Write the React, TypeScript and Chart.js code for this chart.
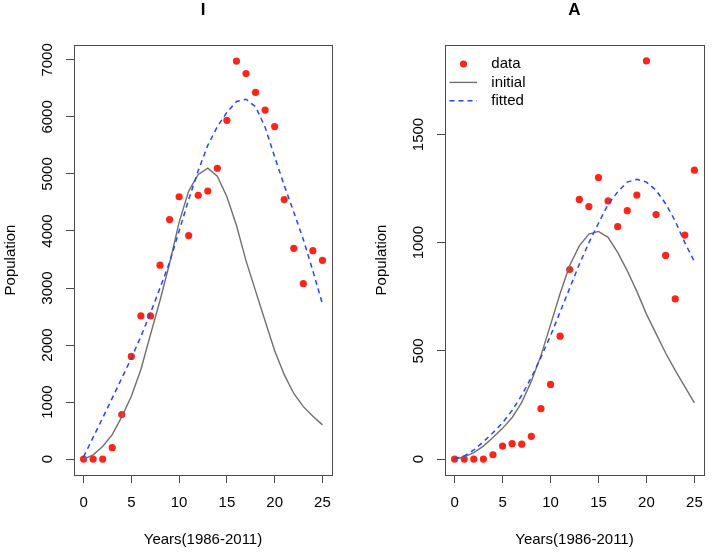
import React, { useEffect, useRef } from 'react';
import { Chart, registerables } from 'chart.js';

Chart.register(...registerables);

const FONT = 'Liberation Sans, Arial, Helvetica, sans-serif';

// ---- data ----
const years = [0, 1, 2, 3, 4, 5, 6, 7, 8, 9, 10, 11, 12, 13, 14, 15, 16, 17, 18, 19, 20, 21, 22, 23, 24, 25];

const iData = [0, 0, 0, 200, 780, 1800, 2510, 2510, 3400, 4200, 4600, 3920, 4625, 4700, 5100, 5940, 6980, 6760, 6430, 6120, 5830, 4550, 3695, 3075, 3655, 3485];
const iInitial = [0, 75, 220, 430, 740, 1100, 1570, 2180, 2780, 3430, 4150, 4700, 4990, 5100, 4960, 4600, 4100, 3480, 2950, 2420, 1900, 1480, 1150, 920, 750, 600];
const iFitted = [40, 380, 720, 1070, 1420, 1770, 2150, 2560, 3000, 3450, 4000, 4550, 5060, 5500, 5830, 6080, 6270, 6310, 6180, 5820, 5300, 4800, 4330, 3850, 3300, 2720];

const aData = [0, 0, 0, 0, 20, 60, 71, 69, 105, 233, 345, 568, 876, 1200, 1167, 1301, 1193, 1074, 1148, 1220, 1840, 1130, 941, 740, 1035, 1335];
const aInitial = [0, 10, 30, 60, 100, 142, 192, 262, 360, 478, 620, 765, 895, 985, 1040, 1052, 1025, 955, 870, 775, 670, 580, 490, 410, 335, 260];
const aFitted = [0, 14, 42, 80, 122, 168, 225, 295, 377, 470, 570, 680, 790, 900, 1000, 1090, 1177, 1235, 1280, 1293, 1280, 1242, 1180, 1100, 1000, 912];

const xTicks = [0, 5, 10, 15, 20, 25];
const iYTicks = [0, 1000, 2000, 3000, 4000, 5000, 6000, 7000];
const aYTicks = [0, 500, 1000, 1500];

const legendLabels = ['data', 'initial', 'fitted'];
const xTitle = 'Years(1986-2011)';
const yTitle = 'Population';

const RED = '#ff2418';
const GRAY = '#707070';
const BLUE = '#1f48ff';
const AXIS = '#4a4a4a';

const toXY = (ys: number[]) => years.map((x, i) => ({ x, y: ys[i] }));

const boxPlugin = {
  id: 'rbox',
  afterDraw(chart: any) {
    const { ctx, chartArea } = chart;
    const { left, top, right, bottom } = chartArea;
    ctx.save();
    ctx.strokeStyle = AXIS;
    ctx.lineWidth = 1;
    ctx.strokeRect(Math.round(left) + 0.5, Math.round(top) + 0.5, Math.round(right - left), Math.round(bottom - top));
    ctx.restore();
  },
};

const legendPlugin = {
  id: 'rlegend',
  afterDraw(chart: any) {
    const { ctx, chartArea } = chart;
    const { left, top } = chartArea;
    const rows = [top + 19, top + 37.4, top + 55.8];
    ctx.save();
    ctx.fillStyle = RED;
    ctx.beginPath();
    ctx.arc(left + 18.5, rows[0], 3.6, 0, Math.PI * 2);
    ctx.fill();
    ctx.strokeStyle = GRAY;
    ctx.lineWidth = 1.4;
    ctx.beginPath();
    ctx.moveTo(left + 4.5, rows[1]);
    ctx.lineTo(left + 32, rows[1]);
    ctx.stroke();
    ctx.strokeStyle = BLUE;
    ctx.setLineDash([5, 4]);
    ctx.beginPath();
    ctx.moveTo(left + 4.5, rows[2]);
    ctx.lineTo(left + 32, rows[2]);
    ctx.stroke();
    ctx.setLineDash([]);
    ctx.fillStyle = '#000';
    ctx.font = `15px ${FONT}`;
    ctx.textBaseline = 'middle';
    ctx.textAlign = 'left';
    legendLabels.forEach((t, i) => ctx.fillText(t, left + 46.3, rows[i]));
    ctx.restore();
  },
};

type PanelProps = {
  title: string;
  data: number[];
  initial: number[];
  fitted: number[];
  yTicks: number[];
  yMin: number;
  yMax: number;
  padLeft: number;
  padRight: number;
  showLegend: boolean;
};

function Panel(props: PanelProps) {
  const ref = useRef<HTMLCanvasElement | null>(null);
  useEffect(() => {
    if (!ref.current) return;
    const plugins: any[] = [boxPlugin];
    if (props.showLegend) plugins.push(legendPlugin);
    const chart = new Chart(ref.current, {
      type: 'scatter',
      data: {
        datasets: [
          {
            label: 'fitted',
            data: toXY(props.fitted),
            showLine: true,
            borderColor: BLUE,
            borderWidth: 1.5,
            borderDash: [5, 4],
            pointRadius: 0,
            tension: 0,
            order: 0,
          } as any,
          {
            label: 'initial',
            data: toXY(props.initial),
            showLine: true,
            borderColor: GRAY,
            borderWidth: 1.4,
            pointRadius: 0,
            tension: 0,
            order: 1,
          } as any,
          {
            label: 'data',
            data: toXY(props.data),
            showLine: false,
            pointRadius: 3.6,
            pointBackgroundColor: RED,
            pointBorderWidth: 0,
            borderColor: RED,
            order: 2,
          } as any,
        ],
      },
      options: {
        responsive: false,
        animation: false,
        devicePixelRatio: 1,
        events: [],
        layout: { padding: { left: props.padLeft, right: props.padRight, top: 0, bottom: 0 } },
        plugins: {
          legend: { display: false },
          tooltip: { enabled: false },
          title: {
            display: true,
            text: props.title,
            fullSize: false,
            color: '#000',
            font: { family: FONT, size: 17, weight: 'bold' },
            padding: { top: 0, bottom: 24.6 },
          },
        },
        scales: {
          x: {
            type: 'linear',
            position: 'bottom',
            min: -1,
            max: 26,
            afterBuildTicks: (s: any) => {
              s.ticks = xTicks.map((v) => ({ value: v }));
            },
            afterFit: (s: any) => {
              s.height = 85;
            },
            grid: { display: true, drawOnChartArea: false, drawTicks: true, tickLength: 8, color: AXIS, lineWidth: 1 },
            border: { display: false },
            ticks: {
              color: '#000',
              font: { family: FONT, size: 15 },
              padding: 11,
              maxRotation: 0,
              autoSkip: false,
              callback: (v: any) => String(v),
            },
            title: {
              display: true,
              text: xTitle,
              color: '#000',
              font: { family: FONT, size: 15 },
              padding: { top: 0, bottom: 11 },
            },
          },
          y: {
            type: 'linear',
            position: 'left',
            min: props.yMin,
            max: props.yMax,
            afterBuildTicks: (s: any) => {
              s.ticks = props.yTicks.map((v) => ({ value: v }));
            },
            afterFit: (s: any) => {
              s.width = 74;
            },
            grid: { display: true, drawOnChartArea: false, drawTicks: true, tickLength: 8, color: AXIS, lineWidth: 1 },
            border: { display: false },
            ticks: {
              color: '#000',
              font: { family: FONT, size: 15 },
              padding: 1,
              minRotation: 90,
              maxRotation: 90,
              crossAlign: 'center',
              autoSkip: false,
              callback: (v: any) => String(v),
            },
            title: {
              display: true,
              text: yTitle,
              color: '#000',
              font: { family: FONT, size: 15 },
              padding: { top: 2, bottom: 0 },
            },
          },
        },
      } as any,
      plugins,
    });
    return () => chart.destroy();
  }, []);
  return <canvas ref={ref} width={362} height={560} style={{ display: 'block', width: 362, height: 560 }} />;
}

export default function App() {
  return (
    <div style={{ position: 'absolute', left: 0, top: 0, width: 724, height: 560, background: '#fff', display: 'flex' }}>
      <Panel title="I" data={iData} initial={iInitial} fitted={iFitted} yTicks={iYTicks} yMin={-279} yMax={7261} padLeft={0} padRight={30} showLegend={false} />
      <Panel title="A" data={aData} initial={aInitial} fitted={aFitted} yTicks={aYTicks} yMin={-73.6} yMax={1913.6} padLeft={9} padRight={20} showLegend={true} />
    </div>
  );
}
